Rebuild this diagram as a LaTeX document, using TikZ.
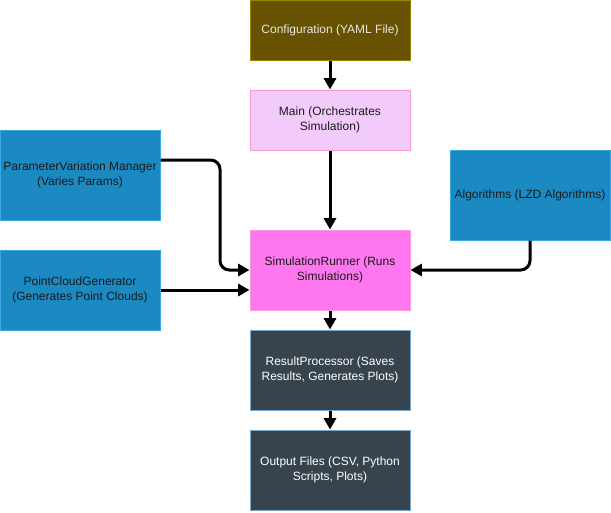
\documentclass[tikz,border=0pt]{standalone}
\usepackage{fontspec}
\setmainfont{Liberation Sans}
\usetikzlibrary{arrows.meta}
\definecolor{cfgfill}{HTML}{665200}
\definecolor{cfgdraw}{HTML}{998300}
\definecolor{cfgtext}{HTML}{E8E8E8}
\definecolor{mainfill}{HTML}{F2CBFB}
\definecolor{maindraw}{HTML}{FF99D6}
\definecolor{bluefill}{HTML}{1B8AC3}
\definecolor{bluedraw}{HTML}{3AA7E8}
\definecolor{srfill}{HTML}{FF77EF}
\definecolor{srdraw}{HTML}{FF99DD}
\definecolor{darkfill}{HTML}{37434D}
\definecolor{darkdraw}{HTML}{7CA6C8}
\definecolor{darktext}{HTML}{1A1A1A}
\begin{document}
\begin{tikzpicture}[x=0.75pt,y=-0.75pt,
  box/.style={draw, line width=0.75pt, align=center, font=\fontsize{9pt}{10.8pt}\selectfont, inner sep=0pt},
  wide/.style={minimum width=120pt, minimum height=45pt},
  tall/.style={minimum width=120pt, minimum height=67.5pt},
  mid/.style={minimum width=120pt, minimum height=60pt},
  conn/.style={line width=2.25pt, rounded corners=7pt, -{Triangle[length=8.5pt,width=9pt]}}
]
\useasboundingbox (0,0) rectangle (611,512);
\node[box, wide, fill=cfgfill, draw=cfgdraw, text=cfgtext] (cfg) at (330,30) {Configuration (YAML File)};
\node[box, wide, fill=mainfill, draw=maindraw, text=darktext] (main) at (330,120) {Main (Orchestrates\\Simulation)};
\node[box, tall, fill=bluefill, draw=bluedraw, text=darktext] (pvm) at (80,175) {ParameterVariation Manager\\(Varies Params)};
\node[box, tall, fill=bluefill, draw=bluedraw, text=darktext] (alg) at (530,195) {Algorithms (LZD Algorithms)};
\node[box, mid, fill=bluefill, draw=bluedraw, text=darktext] (pcg) at (80,290) {PointCloudGenerator\\(Generates Point Clouds)};
\node[box, mid, fill=srfill, draw=srdraw, text=darktext] (sr) at (330,270) {SimulationRunner (Runs\\Simulations)};
\node[box, mid, fill=darkfill, draw=darkdraw, text=white] (rp) at (330,370) {ResultProcessor (Saves\\Results, Generates Plots)};
\node[box, mid, fill=darkfill, draw=darkdraw, text=white] (out) at (330,470) {Output Files (CSV, Python\\Scripts, Plots)};
\coordinate (pvmbend) at (220,160);
\coordinate (pvmlow) at (220,270);
\coordinate (algbend) at (530,270);
\draw[conn] (cfg) -- (main);
\draw[conn] (main) -- (sr);
\draw[conn] (pvm.east |- pvmbend) -- (pvmbend) -- (pvmlow) -- (sr.west |- pvmlow);
\draw[conn] (pcg.east) -- (sr.west |- pcg.east);
\draw[conn] (alg.south) -- (algbend) -- (sr.east |- algbend);
\draw[conn] (sr) -- (rp);
\draw[conn] (rp) -- (out);
\end{tikzpicture}
\end{document}
